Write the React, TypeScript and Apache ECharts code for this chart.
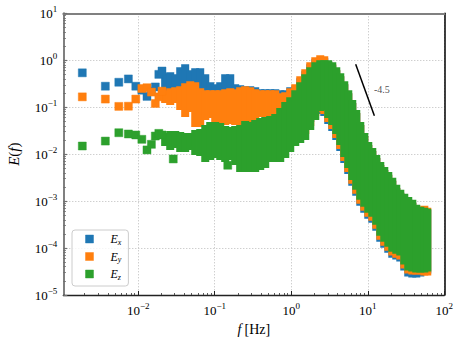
import React, { useEffect, useRef } from 'react';
import * as echarts from 'echarts';

// ---------- data ----------
// sparse low-frequency estimates (Hz, E)
const lowFreq = [0.00186, 0.00372, 0.00558, 0.00744, 0.0093, 0.01116, 0.01302, 0.01488, 0.01674, 0.0186, 0.02046];
const exLowValues = [0.54, 0.28, 0.34, 0.40, 0.28, 0.23, 0.17, 0.22, 0.27, 0.50, 0.59];
const eyLowValues = [0.166, 0.149, 0.104, 0.105, 0.149, 0.25, 0.26, 0.21, 0.12, 0.166, 0.22];
const ezLowValues = [0.0149, 0.019, 0.0286, 0.0269, 0.0256, 0.0207, 0.0123, 0.0162, 0.0243, 0.0277, 0.0256];

// isolated E_z points below the dense cloud
const ezOutlierFreq = [0.0287, 0.148];
const ezOutlierValues = [0.0079, 0.0058];

// dense part of the spectrum: frequency columns with lower / upper extent of the markers
const bandFreq = [0.0225, 0.0262, 0.0305, 0.0354, 0.0411, 0.0479, 0.0556, 0.0646, 0.0752, 0.0873,
  0.1015, 0.118, 0.137, 0.1595, 0.185, 0.215, 0.25, 0.291, 0.338, 0.393,
  0.457, 0.531, 0.618, 0.718, 0.835, 0.970, 1.128, 1.311, 1.524, 1.772,
  2.06, 2.393, 2.70, 3.045, 3.435, 3.875, 4.37, 4.93, 5.56, 6.27,
  7.07, 7.98, 9.00, 10.15, 11.45, 12.92, 14.57, 16.43, 18.53, 20.9,
  23.58, 26.6, 30.0, 33.8, 38.2, 43.05, 48.6, 54.8, 59.9];

const exBandHigh = [0.530, 0.556, 0.505, 0.710, 0.822, 0.613, 0.676, 0.676, 0.505, 0.341,
  0.309, 0.341, 0.505, 0.505, 0.309, 0.2945, 0.2805, 0.2805, 0.267, 0.2423,
  0.2423, 0.2423, 0.2423, 0.2307, 0.2307, 0.267, 0.2805, 0.415, 0.584, 0.822,
  1.05, 1.103, 1.103, 0.907, 0.783, 0.613, 0.457, 0.309, 0.1993, 0.1222,
  0.0749, 0.0417, 0.0243, 0.01568, 0.0117, 0.0083, 0.0059, 0.00462, 0.00362, 0.0027,
  0.0019, 0.0015, 0.00123, 0.00107, 0.00092, 0.000757, 0.000687, 0.000654, 0.000654];
const exBandLow = [0.1807, 0.1807, 0.1807, 0.1415, 0.1108, 0.1108, 0.0957, 0.0868, 0.0868, 0.0868,
  0.0868, 0.0868, 0.0868, 0.0868, 0.0868, 0.0868, 0.0868, 0.0868, 0.0868, 0.0957,
  0.0957, 0.1055, 0.1108, 0.1284, 0.1415, 0.1164, 0.0256, 0.0282, 0.0343, 0.0483,
  0.0749, 0.0714, 0.0647, 0.0438, 0.0311, 0.020, 0.0117, 0.0065, 0.0038, 0.00211,
  0.0013, 0.000794, 0.000565, 0.000421, 0.000346, 0.000234, 0.000137, 0.000102, 0.0000799, 0.0000625,
  0.0000567, 0.0000514, 0.0000331, 0.0000247, 0.0000235, 0.0000235, 0.0000247, 0.0000272, 0.0000286];

const eyBandHigh = [0.2307, 0.2543, 0.267, 0.2805, 0.325, 0.358, 0.341, 0.2543, 0.2307, 0.2307,
  0.2307, 0.2307, 0.2423, 0.2543, 0.2423, 0.267, 0.2805, 0.267, 0.2423, 0.2307,
  0.2307, 0.2307, 0.2307, 0.1993, 0.2094, 0.2543, 0.309, 0.457, 0.644, 0.907,
  1.158, 1.277, 1.216, 0.907, 0.822, 0.613, 0.457, 0.309, 0.1993, 0.1222,
  0.0749, 0.0417, 0.0243, 0.01568, 0.0117, 0.0083, 0.0059, 0.00462, 0.00362, 0.0027,
  0.0019, 0.0015, 0.00123, 0.00107, 0.00092, 0.000757, 0.000687, 0.000794, 0.000721];
const eyBandLow = [0.1222, 0.1108, 0.1222, 0.0868, 0.0616, 0.0787, 0.0378, 0.0378, 0.0532, 0.0587,
  0.0483, 0.0417, 0.0417, 0.0438, 0.0417, 0.0417, 0.0417, 0.0417, 0.0532, 0.0616,
  0.0616, 0.0647, 0.0714, 0.0957, 0.1055, 0.0868, 0.020, 0.0221, 0.0268, 0.0397,
  0.0647, 0.0787, 0.0714, 0.0483, 0.0343, 0.0221, 0.0129, 0.00717, 0.00419, 0.00233,
  0.00143, 0.000877, 0.000622, 0.000464, 0.000382, 0.000258, 0.000151, 0.000112, 0.000088, 0.000069,
  0.0000625, 0.0000567, 0.0000365, 0.0000286, 0.0000272, 0.0000272, 0.0000272, 0.0000259, 0.0000259];

const ezBandHigh = [0.0282, 0.0311, 0.0311, 0.0296, 0.0282, 0.0282, 0.0327, 0.0343, 0.0417, 0.0483,
  0.0483, 0.046, 0.0397, 0.0378, 0.0397, 0.0417, 0.0507, 0.0483, 0.0532, 0.0587,
  0.0616, 0.0647, 0.0714, 0.0957, 0.1284, 0.1638, 0.2307, 0.341, 0.505, 0.710,
  0.907, 1.0, 1.0, 1.0, 0.907, 0.710, 0.530, 0.358, 0.2307, 0.1415,
  0.0868, 0.0483, 0.0282, 0.01816, 0.01354, 0.00962, 0.00683, 0.00535, 0.00419, 0.00313,
  0.00222, 0.00174, 0.00143, 0.00123, 0.00107, 0.000834, 0.000757, 0.000721, 0.000687];
const ezBandLow = [0.01493, 0.01228, 0.01354, 0.01113, 0.01113, 0.01228, 0.00962, 0.00916, 0.00683, 0.00753,
  0.0083, 0.00753, 0.00683, 0.00753, 0.0059, 0.00419, 0.00419, 0.00419, 0.00419, 0.00462,
  0.00509, 0.00683, 0.00683, 0.00683, 0.0083, 0.01113, 0.01493, 0.0173, 0.020, 0.0327,
  0.0532, 0.0826, 0.0868, 0.0587, 0.0417, 0.0268, 0.01568, 0.00872, 0.00509, 0.00283,
  0.00174, 0.00107, 0.000757, 0.000565, 0.000464, 0.000314, 0.000183, 0.000137, 0.000107, 0.0000839,
  0.000076, 0.000069, 0.0000444, 0.0000331, 0.0000315, 0.00003, 0.00003, 0.00003, 0.0000315];

// reference slope line
const slopeFreq = [6.95, 12.2];
const slopeValues = [0.82, 0.066];
const slopeText = '-4.5';
const slopeTextAt = [15.3, 0.242];

// axes
const xMin = 0.00105;
const xMax = 100;
const yMin = 1e-5;
const yMax = 10;
const xMajorTicks = [0.001, 0.01, 0.1, 1, 10, 100];
const yMajorTicks = [1e-5, 1e-4, 1e-3, 1e-2, 1e-1, 1, 10];
const seriesNames = ['Ex', 'Ey', 'Ez'];

function minorTicks(e0: number, e1: number): number[] {
  const out: number[] = [];
  for (let e = e0; e < e1; e++) for (let m = 2; m <= 9; m++) out.push(m * Math.pow(10, e));
  return out;
}
const xMinorTicks = minorTicks(-3, 2);
const yMinorTicks = minorTicks(-5, 1);

const FONT = "'Liberation Serif', 'Times New Roman', serif";
const COLORS: Record<string, string> = { Ex: '#1f77b4', Ey: '#ff7f0e', Ez: '#2ca02c' };
const EDGES: Record<string, string> = {
  Ex: 'rgba(31,119,180,0.45)', Ey: 'rgba(255,127,14,0.45)', Ez: 'rgba(44,160,44,0.45)',
};

const pow10Label = (v: number) => {
  const e = Math.round(Math.log10(v));
  return `{b|10}{s|${e < 0 ? '\u2212' + -e : e}}`;
};
const tickRich = {
  b: { fontFamily: FONT, fontSize: 13, color: '#000', lineHeight: 18, verticalAlign: 'middle' },
  s: { fontFamily: FONT, fontSize: 9, color: '#000', lineHeight: 11, verticalAlign: 'top' },
};

function scatterSeries(name: string, xs: number[], ys: number[]) {
  return {
    type: 'scatter', name, symbol: 'rect', symbolSize: 8, silent: true,
    data: xs.map((f, i) => [f, ys[i]]),
    itemStyle: { color: COLORS[name], borderColor: EDGES[name], borderWidth: 1, opacity: 1 },
    emphasis: { disabled: true },
  };
}

function bandSeries(name: string, lo: number[], hi: number[]) {
  const color = COLORS[name];
  return {
    type: 'custom', name, silent: true, clip: true,
    data: bandFreq.map((f, i) => [f, lo[i], hi[i]]),
    encode: { x: 0, y: [1, 2] },
    renderItem: (_p: any, api: any) => {
      const f = api.value(0);
      const pLo = api.coord([f, api.value(1)]);
      const pHi = api.coord([f, api.value(2)]);
      return {
        type: 'rect',
        shape: { x: pLo[0] - 4, y: pHi[1], width: 8, height: pLo[1] - pHi[1] },
        style: { fill: color },
      };
    },
  };
}

const logAxisBase = { type: 'log', logBase: 10, gridIndex: 0 };

const option: any = {
  animation: false,
  backgroundColor: '#ffffff',
  grid: { left: 63.3, right: 18.7, top: 13.3, bottom: 50, containLabel: false, outerBoundsMode: 'none' },
  legend: {
    left: 72, top: 230, orient: 'vertical', selectedMode: false,
    itemWidth: 8, itemHeight: 8, itemGap: 4.5,
    padding: [3, 7, 5, 13],
    backgroundColor: 'rgba(255,255,255,0.8)', borderColor: '#cccccc', borderWidth: 1, borderRadius: 3,
    data: seriesNames.map((n) => ({
      name: n, icon: 'rect',
      itemStyle: { color: COLORS[n], borderColor: EDGES[n], borderWidth: 1 },
    })),
    formatter: (n: string) => `{sp| }{e|E}{s|${n.slice(1)}}`,
    textStyle: {
      rich: {
        sp: { width: 12, fontSize: 8 },
        e: { fontFamily: FONT, fontStyle: 'italic', fontSize: 12, color: '#000', lineHeight: 14, verticalAlign: 'middle' },
        s: { fontFamily: FONT, fontStyle: 'italic', fontSize: 8, color: '#000', lineHeight: 8, verticalAlign: 'bottom' },
      },
    },
  },
  xAxis: [
    {
      ...logAxisBase, position: 'bottom', min: xMin, max: xMax,
      name: '{i|f} {r|[Hz]}', nameLocation: 'middle', nameGap: 27,
      nameTextStyle: {
        rich: {
          i: { fontFamily: FONT, fontStyle: 'italic', fontSize: 14, color: '#000' },
          r: { fontFamily: FONT, fontSize: 14, color: '#000' },
        },
      },
      axisLine: { show: true, lineStyle: { color: '#222', width: 1.3 } },
      axisTick: { show: true, inside: true, length: 4, customValues: xMajorTicks, lineStyle: { color: '#222', width: 1 } },
      axisLabel: {
        show: true, margin: 6, customValues: xMajorTicks, formatter: pow10Label, rich: tickRich,
        showMinLabel: true, showMaxLabel: true, hideOverlap: false,
      },
      splitLine: { show: true, lineStyle: { color: '#bbbbbb', width: 1, type: [1, 2] } },
    },
    {
      ...logAxisBase, position: 'bottom', min: xMin, max: xMax,
      axisLine: { show: false }, axisLabel: { show: false }, splitLine: { show: false },
      axisTick: { show: true, inside: true, length: 2, customValues: xMinorTicks, lineStyle: { color: '#333', width: 0.8 } },
    },
    {
      ...logAxisBase, position: 'top', min: xMin, max: xMax,
      axisLine: { show: true, lineStyle: { color: '#808080', width: 2 } },
      axisTick: { show: false }, axisLabel: { show: false }, splitLine: { show: false },
    },
  ],
  yAxis: [
    {
      ...logAxisBase, position: 'left', min: yMin, max: yMax,
      name: '{i|E}{r|(}{i|f}{r|)}', nameLocation: 'middle', nameGap: 42, nameRotate: 90,
      nameTextStyle: {
        rich: {
          i: { fontFamily: FONT, fontStyle: 'italic', fontSize: 15, color: '#000' },
          r: { fontFamily: FONT, fontSize: 15, color: '#000' },
        },
      },
      axisLine: { show: true, lineStyle: { color: '#808080', width: 2 } },
      axisTick: { show: true, inside: true, length: 4, customValues: yMajorTicks, lineStyle: { color: '#707070', width: 1.2 } },
      axisLabel: {
        show: true, margin: 6, customValues: yMajorTicks, formatter: pow10Label, rich: tickRich,
        showMinLabel: true, showMaxLabel: true, hideOverlap: false,
      },
      splitLine: { show: true, lineStyle: { color: '#bbbbbb', width: 1, type: [1, 2] } },
    },
    {
      ...logAxisBase, position: 'left', min: yMin, max: yMax,
      axisLine: { show: false }, axisLabel: { show: false }, splitLine: { show: false },
      axisTick: { show: true, inside: true, length: 2.5, customValues: yMinorTicks, lineStyle: { color: '#707070', width: 1 } },
    },
    {
      ...logAxisBase, position: 'right', min: yMin, max: yMax,
      axisLine: { show: true, lineStyle: { color: '#000', width: 1.5 } },
      axisTick: { show: false }, axisLabel: { show: false }, splitLine: { show: false },
    },
  ],
  series: [
    scatterSeries('Ex', lowFreq, exLowValues),
    bandSeries('Ex', exBandLow, exBandHigh),
    scatterSeries('Ey', lowFreq, eyLowValues),
    bandSeries('Ey', eyBandLow, eyBandHigh),
    scatterSeries('Ez', lowFreq, ezLowValues),
    scatterSeries('Ez', ezOutlierFreq, ezOutlierValues),
    bandSeries('Ez', ezBandLow, ezBandHigh),
    {
      type: 'line', name: 'slope', silent: true, symbol: 'none',
      data: slopeFreq.map((f, i) => [f, slopeValues[i]]),
      lineStyle: { color: '#000', width: 1.5 },
      z: 5,
    },
    {
      type: 'scatter', name: 'slopeLabel', silent: true, symbolSize: 1,
      itemStyle: { color: 'rgba(0,0,0,0)' },
      data: [slopeTextAt],
      label: { show: true, position: 'inside', formatter: slopeText, fontFamily: FONT, fontSize: 10, color: '#222' },
      z: 5,
    },
  ],
};

export default function App() {
  const ref = useRef<HTMLDivElement>(null);
  useEffect(() => {
    document.body.style.margin = '0';
    const chart = echarts.init(ref.current as HTMLDivElement, null, { renderer: 'svg' });
    chart.setOption(option);
    return () => chart.dispose();
  }, []);
  return <div ref={ref} style={{ position: 'fixed', left: 0, top: 0, width: 463, height: 345, background: '#fff' }} />;
}
